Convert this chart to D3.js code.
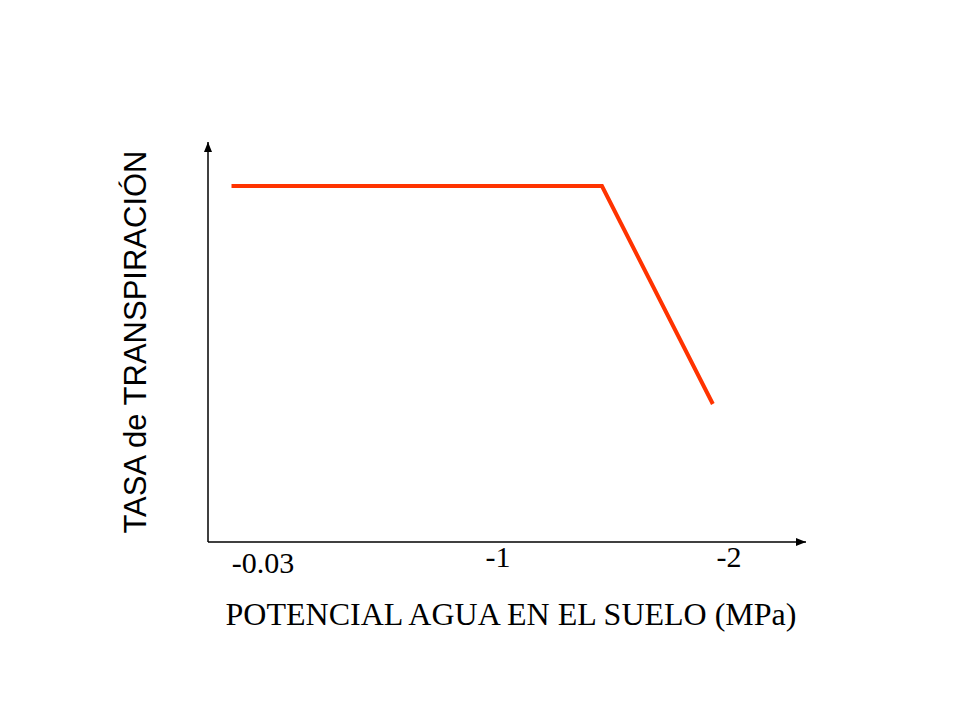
<!DOCTYPE html>
<html>
<head>
<meta charset="utf-8">
<script src="https://cdn.jsdelivr.net/npm/d3@7"></script>
<style>
html,body{margin:0;padding:0;background:#fff;}
</style>
</head>
<body>
<svg id="chart" width="960" height="720"></svg>
<script>
// Tick labels on the x axis (MPa)
const tickValues = [-0.03, -1, -2];
const tickLabels = ["-0.03", "-1", "-2"];
// Transpiration curve (schematic): soil water potential (MPa) vs relative rate
const curveX = [0.10, -1.45, -1.93];
const curveY = [0.89, 0.89, 0.345];
const xTitle = "POTENCIAL AGUA EN EL SUELO (MPa)";
const yTitle = "TASA de TRANSPIRACIÓN";

const svg = d3.select("#chart");

const x = d3.scaleLinear().domain(tickValues).range([263, 498, 729]);
const y = d3.scaleLinear().domain([0, 1]).range([542, 142]);

const axisX0 = 208, axisY0 = 542, axisXEnd = 806, axisYEnd = 142;

const defs = svg.append("defs");
defs.append("marker").attr("id", "arrow")
  .attr("viewBox", "0 0 10 10").attr("refX", 10).attr("refY", 5)
  .attr("markerWidth", 10).attr("markerHeight", 10)
  .attr("markerUnits", "userSpaceOnUse")
  .attr("orient", "auto")
  .append("path").attr("d", "M0,1 L10,5 L0,9 Z").attr("fill", "#000");

// axes
svg.append("line").attr("x1", axisX0).attr("y1", axisY0).attr("x2", axisX0).attr("y2", axisYEnd)
  .attr("stroke", "#000").attr("stroke-width", 1.5).attr("marker-end", "url(#arrow)");
svg.append("line").attr("x1", axisX0).attr("y1", axisY0).attr("x2", axisXEnd).attr("y2", axisY0)
  .attr("stroke", "#000").attr("stroke-width", 1.5).attr("marker-end", "url(#arrow)");

// tick labels (first label sits slightly lower in the original)
svg.selectAll("text.tick").data(tickValues).enter().append("text")
  .attr("class", "tick")
  .attr("x", d => x(d)).attr("y", (d, i) => i === 0 ? 573 : 567)
  .attr("text-anchor", "middle")
  .attr("font-family", "'Liberation Serif','Times New Roman',serif")
  .attr("font-size", 30)
  .text((d, i) => tickLabels[i]);

// curve
const pts = curveX.map((v, i) => [v, curveY[i]]);
svg.append("path").datum(pts)
  .attr("d", d3.line().x(d => x(d[0])).y(d => y(d[1])))
  .attr("fill", "none").attr("stroke", "#FF3300").attr("stroke-width", 4)
  .attr("stroke-linejoin", "miter");

// titles
svg.append("text").attr("x", 511).attr("y", 625)
  .attr("text-anchor", "middle")
  .attr("font-family", "'Liberation Serif','Times New Roman',serif")
  .attr("font-size", 32)
  .text(xTitle);

svg.append("text")
  .attr("transform", "translate(146,342) rotate(-90)")
  .attr("text-anchor", "middle")
  .attr("font-family", "'Liberation Sans',Arial,sans-serif")
  .attr("font-size", 31)
  .text(yTitle);
</script>
</body>
</html>
